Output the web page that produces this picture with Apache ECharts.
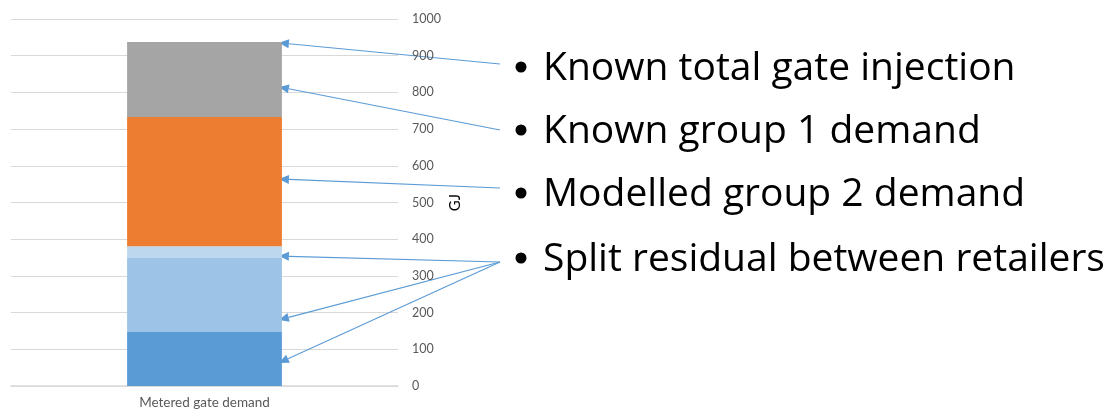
<!DOCTYPE html>
<html>
<head>
<meta charset="utf-8">
<script src="https://cdn.jsdelivr.net/npm/echarts@6/dist/echarts.min.js"></script>
<style>
  html, body { margin: 0; padding: 0; background: #ffffff; }
  #chart { width: 1109px; height: 412px; }
</style>
</head>
<body>
<div id="chart"></div>
<script>
// Stacked gate demand breakdown (GJ)
const categories = ['Metered gate demand'];
const residualA = [147];     // split residual, retailer A
const residualB = [202];     // split residual, retailer B
const residualC = [32];      // split residual, retailer C
const group2Demand = [352];  // modelled group 2 demand
const group1Demand = [204];  // known group 1 demand
const yTicks = [0, 100, 200, 300, 400, 500, 600, 700, 800, 900, 1000];

// Callout bullets and the value each arrow points at
const calloutTexts = [
  'Known total gate injection',
  'Known group 1 demand',
  'Modelled group 2 demand',
  'Split residual between retailers'
];
const calloutTargets = [[935], [815], [564], [354, 180, 63]];

const chart = echarts.init(document.getElementById('chart'));

const seriesDefs = [
  { name: 'Residual A', data: residualA, color: '#5B9BD5' },
  { name: 'Residual B', data: residualB, color: '#9DC3E6' },
  { name: 'Residual C', data: residualC, color: '#BDD7EE' },
  { name: 'Group 2', data: group2Demand, color: '#ED7D31' },
  { name: 'Group 1', data: group1Demand, color: '#A5A5A5' }
];

const smallFont = 'Lato, "Open Sans", sans-serif';

chart.setOption({
  animation: false,
  grid: { left: 11, right: 711, top: 19, bottom: 26, containLabel: false },
  xAxis: {
    type: 'category',
    data: categories,
    axisLine: { lineStyle: { color: '#D9D9D9', width: 1.5 } },
    axisTick: { show: false },
    axisLabel: { color: '#595959', fontSize: 13.5, fontFamily: smallFont, margin: 10 }
  },
  yAxis: {
    type: 'value',
    position: 'right',
    min: yTicks[0],
    max: yTicks[yTicks.length - 1],
    interval: 100,
    name: 'GJ',
    nameLocation: 'middle',
    nameRotate: 90,
    nameGap: 50,
    nameTextStyle: { color: '#000000', fontSize: 15, fontFamily: smallFont },
    axisLine: { show: false },
    axisTick: { show: false },
    axisLabel: {
      color: '#595959', fontSize: 12.5, fontFamily: smallFont, margin: 14, align: 'left',
      formatter: v => String(v)
    },
    splitLine: { lineStyle: { color: '#D9D9D9', width: 1 } }
  },
  series: seriesDefs.map(s => ({
    name: s.name,
    type: 'bar',
    stack: 'total',
    barWidth: '40%',
    data: s.data,
    itemStyle: { color: s.color }
  }))
});

// Arrow from a fixed tail to the bar edge at a given value
function arrow(x1, y1, x2, y2) {
  const ang = Math.atan2(y2 - y1, x2 - x1);
  const len = 10, half = 4.5;
  const bx = x2 - len * Math.cos(ang), by = y2 - len * Math.sin(ang);
  const px = -Math.sin(ang) * half, py = Math.cos(ang) * half;
  return [
    { type: 'line', silent: true, shape: { x1: x1, y1: y1, x2: bx, y2: by },
      style: { stroke: '#5B9BD5', lineWidth: 1.1 } },
    { type: 'polygon', silent: true,
      shape: { points: [[x2, y2], [bx + px, by + py], [bx - px, by - py]] },
      style: { fill: '#5B9BD5' } }
  ];
}

const center = chart.convertToPixel({ xAxisIndex: 0 }, categories[0]);
const plotLeft = 11, plotRight = 1109 - 711;
const barRight = center + (plotRight - plotLeft) * 0.2;
const tipX = barRight - 3;

const lineCenters = [67, 130, 193, 258];
const tailX = 500;
const tailY = [64, 130, 188, 262];

const graphics = [];
calloutTexts.forEach((t, i) => {
  graphics.push({
    type: 'circle', silent: true,
    shape: { cx: 521, cy: lineCenters[i], r: 5.5 },
    style: { fill: '#000000' }
  });
  graphics.push({
    type: 'text', silent: true,
    x: 543, y: lineCenters[i] + 2,
    style: {
      text: t, fill: '#000000',
      font: '39px "Open Sans", Lato, sans-serif',
      textVerticalAlign: 'middle', verticalAlign: 'middle'
    }
  });
  calloutTargets[i].forEach(v => {
    const ty = chart.convertToPixel({ yAxisIndex: 0 }, v);
    arrow(tailX, tailY[i], tipX, ty).forEach(g => graphics.push(g));
  });
});

chart.setOption({ graphic: graphics });
</script>
</body>
</html>
